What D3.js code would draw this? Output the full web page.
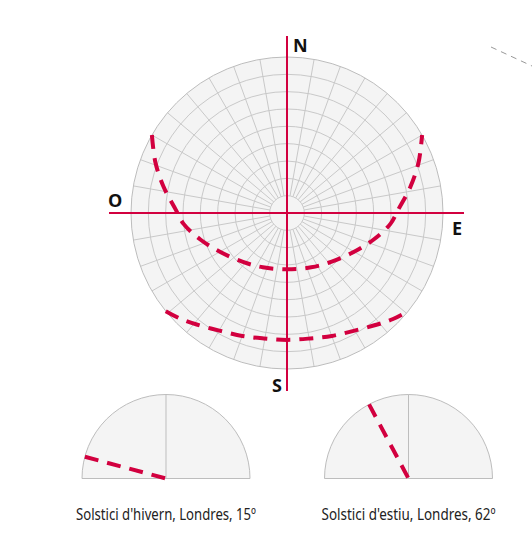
<!DOCTYPE html>
<html>
<head>
<meta charset="utf-8">
<script src="https://cdn.jsdelivr.net/npm/d3@7"></script>
<style>
  body { margin: 0; background: #fff; }
  .caption { font-family: "Noto Sans", "Open Sans", sans-serif; font-size: 16px; fill: #222; }
  .cardinal { font-family: "Open Sans", "Noto Sans", sans-serif; font-size: 18px; font-weight: 700; fill: #111; }
</style>
</head>
<body>
<div id="chart"></div>
<script>
// altitude rings (degrees above horizon) and azimuth spokes of the sky dome
var altitudeRings = [80, 70, 60, 50, 40, 30, 20, 10, 0];
var spokeAzimuths = d3.range(0, 360, 10);

// cardinal points
var cardinals = ["N", "E", "S", "O"];

// sun path at summer solstice (azimuth from north, altitude)
var summerAz  = [300, 291, 282, 272, 264, 253, 240, 222, 204, 180, 156, 138, 120, 107, 96, 88, 78, 69, 60];
var summerAlt = [0, 8.7, 17.2, 25.6, 30, 37.7, 45.3, 52, 55.7, 57.5, 55.7, 52, 45.3, 37.7, 30, 25.6, 17.2, 8.7, 0];

// sun path at winter solstice
var winterAz  = [231, 225, 219, 209.5, 200, 190.5, 180, 169.5, 160, 150.5, 141, 135, 129];
var winterAlt = [0, 3.5, 7.2, 11.9, 14.5, 16.4, 16.8, 16.4, 14.5, 11.9, 7.2, 3.5, 0];

// noon altitude panels
var panelNames = ["Solstici d'hivern, Londres, 15º", "Solstici d'estiu, Londres, 62º"];
var panelAltitudes = [15, 62];

var red = "#d2003f";
var gridColor = "#c9c9c9";
var fillColor = "#f4f4f4";

var svgWidth = 532;
var svgHeight = 549;

var svg = d3.select("#chart")
    .append("svg")
    .attr("width", svgWidth)
    .attr("height", svgHeight);

// ---- main sky chart ----
var cx = 287, cy = 213, R = 156;

var rScale = d3.scaleLinear().domain([90, 0]).range([0, R]);
var aScale = d3.scaleLinear().domain([0, 360]).range([0, 2 * Math.PI]);

function px(az, alt) { return cx + rScale(alt) * Math.sin(aScale(az)); }
function py(az, alt) { return cy - rScale(alt) * Math.cos(aScale(az)); }

var sky = svg.append("g");

sky.append("circle")
    .attr("cx", cx).attr("cy", cy).attr("r", R)
    .attr("fill", fillColor);

sky.selectAll(".spoke")
    .data(spokeAzimuths)
    .enter()
    .append("line")
    .attr("class", "spoke")
    .attr("x1", d => px(d, 80)).attr("y1", d => py(d, 80))
    .attr("x2", d => px(d, 0)).attr("y2", d => py(d, 0))
    .attr("stroke", gridColor)
    .attr("stroke-width", 1);

sky.selectAll(".ring")
    .data(altitudeRings)
    .enter()
    .append("circle")
    .attr("class", "ring")
    .attr("cx", cx).attr("cy", cy)
    .attr("r", d => rScale(d))
    .attr("fill", "none")
    .attr("stroke", d => d === 0 ? "#bdbdbd" : gridColor)
    .attr("stroke-width", 1);

// sun paths
var pathLine = d3.line()
    .x(d => px(d[0], d[1]))
    .y(d => py(d[0], d[1]))
    .curve(d3.curveCatmullRom);

var paths = [d3.zip(summerAz, summerAlt), d3.zip(winterAz, winterAlt)];

sky.selectAll(".sunpath")
    .data(paths)
    .enter()
    .append("path")
    .attr("class", "sunpath")
    .attr("d", pathLine)
    .attr("fill", "none")
    .attr("stroke", red)
    .attr("stroke-width", 4)
    .attr("stroke-dasharray", "14,9");

// red compass cross
sky.append("line")
    .attr("x1", cx).attr("x2", cx)
    .attr("y1", cy - 177).attr("y2", cy + 178)
    .attr("stroke", red).attr("stroke-width", 2);

sky.append("line")
    .attr("x1", cx - 178).attr("x2", cx + 177)
    .attr("y1", cy).attr("y2", cy)
    .attr("stroke", red).attr("stroke-width", 2);

var labelPos = {
    N: { x: cx + 6, y: 52, anchor: "start" },
    E: { x: cx + 165, y: 235, anchor: "start" },
    S: { x: cx - 5, y: 392, anchor: "end" },
    O: { x: cx - 179, y: 207, anchor: "start" }
};

sky.selectAll(".cardinal")
    .data(cardinals)
    .enter()
    .append("text")
    .attr("class", "cardinal")
    .attr("x", d => labelPos[d].x)
    .attr("y", d => labelPos[d].y)
    .attr("text-anchor", d => labelPos[d].anchor)
    .text(d => d);

// ---- noon altitude panels ----
var panelCenters = [166, 408.5];
var captionWidths = [180, 174];
var pr = 84, pcy = 478.5;

var panelArc = d3.arc()
    .innerRadius(0)
    .outerRadius(pr)
    .startAngle(-Math.PI / 2)
    .endAngle(Math.PI / 2);

var panels = svg.selectAll(".panel")
    .data(panelNames)
    .enter()
    .append("g")
    .attr("class", "panel")
    .attr("transform", (d, i) => `translate(${panelCenters[i]}, ${pcy})`);

panels.append("path")
    .attr("d", panelArc)
    .attr("fill", fillColor)
    .attr("stroke", "#bdbdbd")
    .attr("stroke-width", 1);

panels.append("line")
    .attr("x1", 0).attr("y1", 0)
    .attr("x2", 0).attr("y2", -pr)
    .attr("stroke", "#bdbdbd")
    .attr("stroke-width", 1);

var elev = d3.scaleLinear().domain([0, 180]).range([0, Math.PI]);

panels.append("line")
    .attr("x1", (d, i) => -pr * Math.cos(elev(panelAltitudes[i])))
    .attr("y1", (d, i) => -pr * Math.sin(elev(panelAltitudes[i])))
    .attr("x2", 0).attr("y2", 0)
    .attr("stroke", red)
    .attr("stroke-width", 4)
    .attr("stroke-dasharray", "14,9");

panels.append("text")
    .attr("class", "caption")
    .attr("x", 0)
    .attr("y", 41)
    .attr("text-anchor", "middle")
    .attr("textLength", (d, i) => captionWidths[i])
    .attr("lengthAdjust", "spacingAndGlyphs")
    .text(d => d);

// faint dashed guide in the top right corner
svg.append("line")
    .attr("x1", 491).attr("y1", 47)
    .attr("x2", 532).attr("y2", 66)
    .attr("stroke", "#999")
    .attr("stroke-width", 1)
    .attr("stroke-dasharray", "6,5");
</script>
</body>
</html>
